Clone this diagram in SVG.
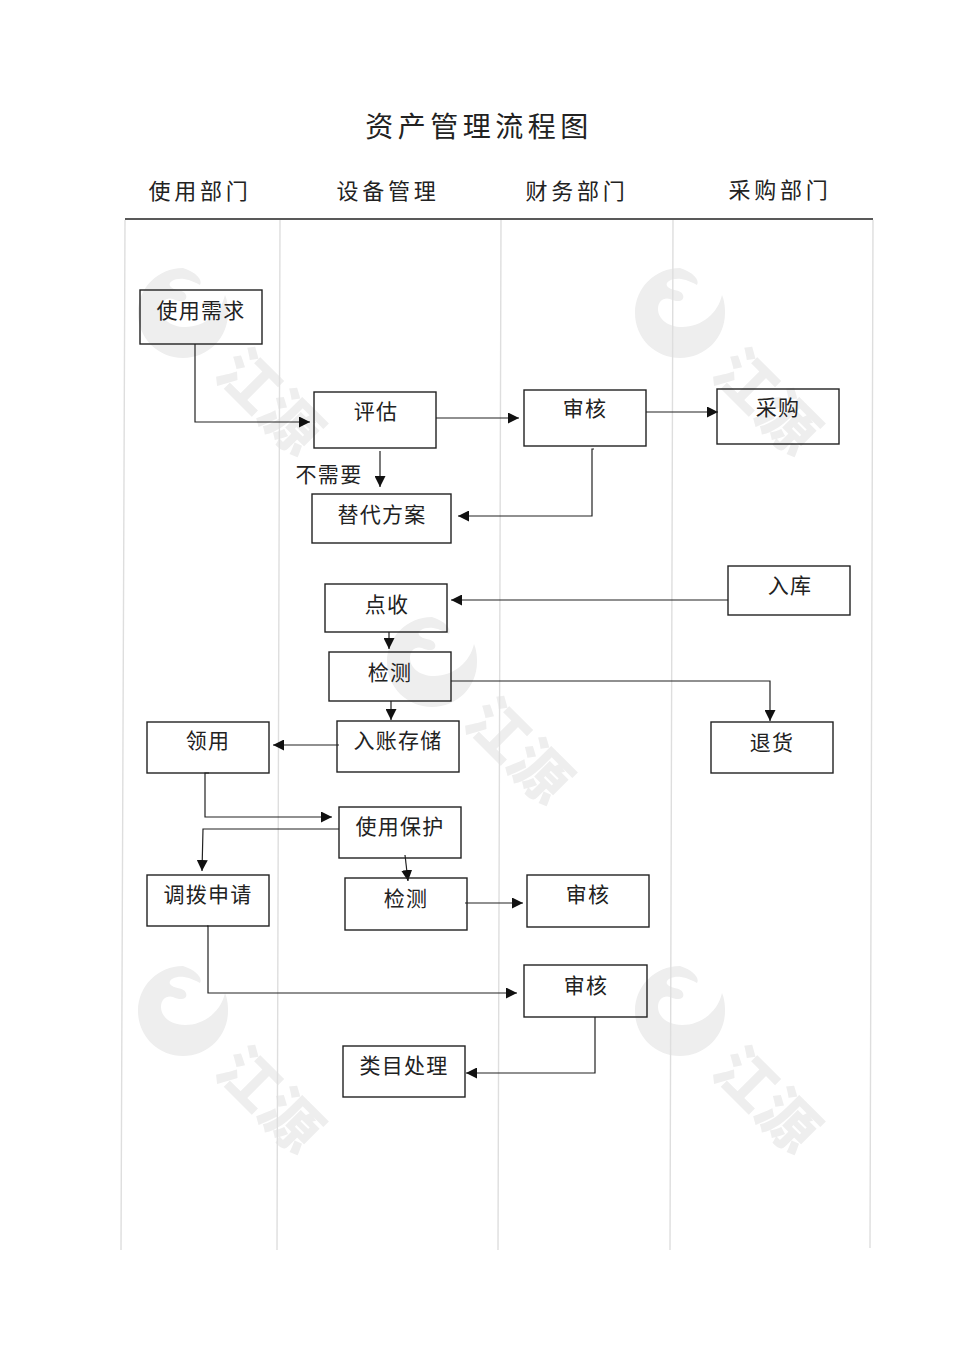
<svg xmlns="http://www.w3.org/2000/svg" width="970" height="1371" viewBox="0 0 970 1371">
<style>
text{font-family:"Noto Sans CJK SC","Noto Sans",sans-serif;fill:#222;text-anchor:middle}
.t{font-size:21px;letter-spacing:1.3px}
.h{font-size:22px;letter-spacing:3.8px}
.n{fill:none;stroke:#222;stroke-width:1.4}
.c{fill:none;stroke:#222;stroke-width:1.2;marker-end:url(#a)}
.l{fill:none;stroke:#dedede;stroke-width:1.4}
.w{font-size:59px;font-weight:900;fill:#eee;letter-spacing:1px}
.m{fill:#eee}
</style>
<defs>
<marker id="a" markerUnits="userSpaceOnUse" markerWidth="12" markerHeight="11" refX="11" refY="5.5" orient="auto"><path d="M0 0L11 5.5L0 11Z" fill="#111"/></marker>
<g id="wm">
<path class="m" d="M0 -45C-25 -45 -45 -25 -45 0C-45 25 -25 45 0 45C25 45 45 25 45 0C45 -8 44 -13 42 -18C38 0 22 14 2 14C-12 14 -22 6 -22 -4C-22 -12 -16 -16 -10 -14C-2 -10 5 -12 3 -18C1 -24 -10 -22 -13 -27C-15 -31 -8 -35 1 -34C8 -33 13 -30 17 -28C20 -33 13 -41 0 -45Z"/>
<text class="w" transform="translate(87 89) rotate(45)" y="21">江源</text>
</g>
</defs>
<rect width="970" height="1371" fill="#fff"/>
<g id="watermarks">
<use href="#wm" x="183" y="313"/>
<use href="#wm" x="680" y="313"/>
<use href="#wm" x="432" y="662"/>
<use href="#wm" x="183" y="1011"/>
<use href="#wm" x="680" y="1011"/>
</g>
<g id="lanes">
<path class="l" d="M125 220L121 1250M280 220L277 1250M501 220L498 1250M673 220L670 1250M873 220L870 1248"/>
<path d="M125 219H873" fill="none" stroke="#222" stroke-width="1.3"/>
</g>
<g id="headers">
<text x="479" y="137" font-size="28" letter-spacing="4.5">资产管理流程图</text>
<text class="h" x="200" y="199">使用部门</text>
<text class="h" x="388" y="199">设备管理</text>
<text class="h" x="577" y="199">财务部门</text>
<text class="h" x="780" y="198">采购部门</text>
<text class="t" x="329" y="482">不需要</text>
</g>
<g id="connectors">
<path class="c" d="M195 344V422H310"/>
<path class="c" d="M436 418H519"/>
<path class="c" d="M646 412H718"/>
<path class="c" d="M380 451V487"/>
<path class="c" d="M594 449H592V516H458"/>
<path class="c" d="M728 600H451"/>
<path class="c" d="M389 632V649"/>
<path class="c" d="M451 681H770V721"/>
<path class="c" d="M391 701V720"/>
<path class="c" d="M339 745H273"/>
<path class="c" d="M209 773H205V817H332"/>
<path class="c" d="M339 829H203L202 871"/>
<path class="c" d="M405 855L408 881"/>
<path class="c" d="M465 903H523"/>
<path class="c" d="M207 926H208V993H517"/>
<path class="c" d="M595 1017V1073H466"/>
</g>
<g id="n1"><rect class="n" x="140" y="290" width="122" height="54"/><text class="t" x="201" y="318">使用需求</text></g>
<g id="n2"><rect class="n" x="314" y="392" width="122" height="56"/><text class="t" x="376" y="419">评估</text></g>
<g id="n3"><rect class="n" x="524" y="390" width="122" height="56"/><text class="t" x="585" y="416">审核</text></g>
<g id="n4"><rect class="n" x="717" y="389" width="122" height="55"/><text class="t" x="778" y="415">采购</text></g>
<g id="n5"><rect class="n" x="312" y="494" width="139" height="49"/><text class="t" x="382" y="522">替代方案</text></g>
<g id="n6"><rect class="n" x="728" y="566" width="122" height="49"/><text class="t" x="790" y="593">入库</text></g>
<g id="n7"><rect class="n" x="325" y="584" width="122" height="48"/><text class="t" x="387" y="612">点收</text></g>
<g id="n8"><rect class="n" x="329" y="652" width="122" height="49"/><text class="t" x="390" y="680">检测</text></g>
<g id="n9"><rect class="n" x="337" y="721" width="122" height="51"/><text class="t" x="398" y="748">入账存储</text></g>
<g id="n10"><rect class="n" x="147" y="722" width="122" height="51"/><text class="t" x="208" y="748">领用</text></g>
<g id="n11"><rect class="n" x="711" y="722" width="122" height="51"/><text class="t" x="772" y="750">退货</text></g>
<g id="n12"><rect class="n" x="339" y="807" width="122" height="51"/><text class="t" x="400" y="834">使用保护</text></g>
<g id="n13"><rect class="n" x="147" y="875" width="122" height="51"/><text class="t" x="208" y="902">调拨申请</text></g>
<g id="n14"><rect class="n" x="345" y="878" width="122" height="52"/><text class="t" x="406" y="906">检测</text></g>
<g id="n15"><rect class="n" x="527" y="875" width="122" height="52"/><text class="t" x="588" y="902">审核</text></g>
<g id="n16"><rect class="n" x="524" y="965" width="123" height="52"/><text class="t" x="586" y="993">审核</text></g>
<g id="n17"><rect class="n" x="343" y="1046" width="122" height="51"/><text class="t" x="404" y="1073">类目处理</text></g>
</svg>
